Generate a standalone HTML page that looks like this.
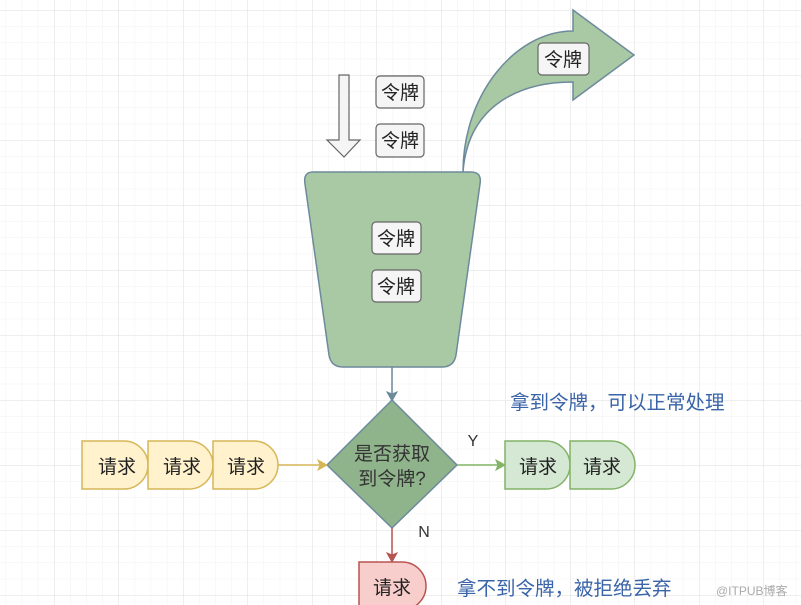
<!DOCTYPE html>
<html><head><meta charset="utf-8"><style>
html,body{margin:0;padding:0;background:#fff}
svg{display:block}
text{font-family:"Liberation Sans","Noto Sans CJK SC",sans-serif}
</style></head><body>
<svg width="801" height="605" viewBox="0 0 801 605" xmlns="http://www.w3.org/2000/svg">
<defs>
<pattern id="minor" width="16.125" height="16.25" patternUnits="userSpaceOnUse" x="312" y="10">
<path d="M0 0H16.125M0 0V16.25" stroke="#f0f0f0" stroke-width="1" fill="none"/>
</pattern>
<pattern id="major" width="64.5" height="65" patternUnits="userSpaceOnUse" x="312" y="10">
<path d="M0 0H64.5M0 0V65" stroke="#dedede" stroke-width="1" fill="none"/>
</pattern>
</defs>
<rect width="801" height="605" fill="url(#minor)"/>
<rect width="801" height="605" fill="url(#major)"/>

<path d="M339 75H349V140H360L344 157L327 140H339Z" fill="#f5f5f5" stroke="#666" stroke-width="1.2"/>
<g stroke="#666" stroke-width="1.2" fill="#f5f5f5">
<rect x="376" y="76" width="48" height="32" rx="4"/>
<rect x="376" y="124" width="48" height="33" rx="4"/>
</g>
<text x="400" y="99" font-size="19" text-anchor="middle" fill="#222">令牌</text>
<text x="400" y="147" font-size="19" text-anchor="middle" fill="#222">令牌</text>

<path d="M463 172C463 95 515 31 573 31L573 10L634 55L573 100L573 82C520 82 468 105 463 172Z" fill="#a9c9a4" stroke="#6d8a9c" stroke-width="1.5"/>
<rect x="538" y="43" width="51" height="32" rx="4" fill="#f5f5f5" stroke="#666" stroke-width="1.2"/>
<text x="563" y="66" font-size="19" text-anchor="middle" fill="#222">令牌</text>

<path d="M313 172H471Q482 172 480 184L456 355Q454 367 442 367H343Q331 367 329 355L305 184Q303 172 313 172Z" fill="#a9c9a4" stroke="#6d8a9c" stroke-width="1.5"/>
<g stroke="#666" stroke-width="1.2" fill="#f5f5f5">
<rect x="372" y="222" width="49" height="32" rx="4"/>
<rect x="372" y="270" width="49" height="32" rx="4"/>
</g>
<text x="396" y="245" font-size="19" text-anchor="middle" fill="#222">令牌</text>
<text x="396" y="293" font-size="19" text-anchor="middle" fill="#222">令牌</text>

<path d="M392 367V394" stroke="#6d8a9c" stroke-width="1.5"/>
<path d="M387 392L392 401L397 392L392 394Z" fill="#6d8a9c" stroke="#6d8a9c"/>

<path d="M392 400L457 465L392 528L327 465Z" fill="#8fb38b" stroke="#6d8a9c" stroke-width="1.5"/>
<text x="392" y="460" font-size="19" text-anchor="middle" fill="#333">是否获取</text>
<text x="392" y="485" font-size="19" text-anchor="middle" fill="#333">到令牌?</text>

<g fill="#fff2cc" stroke="#d6b656" stroke-width="1.5">
<path d="M82 441H124A24 24 0 0 1 124 489H82Z"/>
<path d="M148 441H189A24 24 0 0 1 189 489H148Z"/>
<path d="M213 441H254A24 24 0 0 1 254 489H213Z"/>
</g>
<text x="117" y="473" font-size="19" text-anchor="middle" fill="#222">请求</text>
<text x="182" y="473" font-size="19" text-anchor="middle" fill="#222">请求</text>
<text x="246" y="473" font-size="19" text-anchor="middle" fill="#222">请求</text>
<path d="M278 465H321" stroke="#d6b656" stroke-width="1.5"/>
<path d="M318 460L327 465L318 470L320 465Z" fill="#d6b656" stroke="#d6b656"/>

<path d="M457 465H499" stroke="#82b366" stroke-width="1.5"/>
<path d="M496 460L505 465L496 470L498 465Z" fill="#82b366" stroke="#82b366"/>
<text x="473" y="446" font-size="16" text-anchor="middle" fill="#333">Y</text>
<g fill="#d5e8d4" stroke="#82b366" stroke-width="1.5">
<path d="M505 441H546A24 24 0 0 1 546 489H505Z"/>
<path d="M570 441H611A24 24 0 0 1 611 489H570Z"/>
</g>
<text x="538" y="473" font-size="19" text-anchor="middle" fill="#222">请求</text>
<text x="602" y="473" font-size="19" text-anchor="middle" fill="#222">请求</text>
<text x="510" y="409" font-size="19.5" fill="#3a64a8">拿到令牌，可以正常处理</text>

<path d="M392 528V555" stroke="#b85450" stroke-width="1.5"/>
<path d="M387 553L392 562L397 553L392 555Z" fill="#b85450" stroke="#b85450"/>
<text x="424" y="537" font-size="16" text-anchor="middle" fill="#333">N</text>
<path d="M359 562H402A24 24 0 0 1 402 610H359Z" fill="#f8cecc" stroke="#b85450" stroke-width="1.5"/>
<text x="392" y="594" font-size="19" text-anchor="middle" fill="#222">请求</text>
<text x="457" y="595" font-size="19.5" fill="#3a64a8">拿不到令牌，被拒绝丢弃</text>

<text x="716" y="595" font-size="12" fill="#aaa">@ITPUB博客</text>
</svg>
</body></html>
